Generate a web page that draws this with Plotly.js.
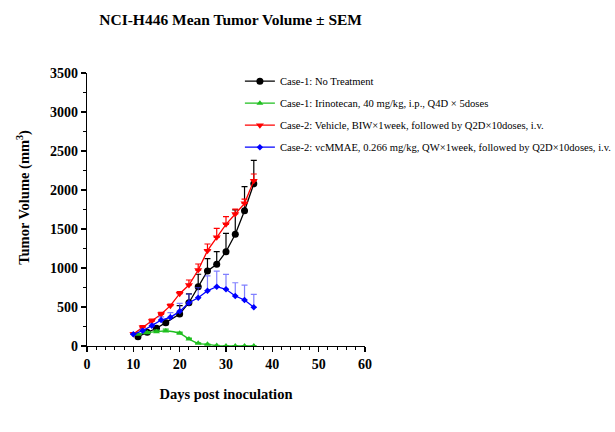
<!DOCTYPE html>
<html>
<head>
<meta charset="utf-8">
<script src="https://cdn.plot.ly/plotly-3.0.1.min.js"></script>
<style>
  html, body { margin: 0; padding: 0; background: #fff; }
  #chart { width: 615px; height: 432px; }
</style>
</head>
<body>
<div id="chart"></div>
<script>
// Mean tumour volume (mm³) with upper SEM, NCI-H446 xenograft
const daysCase1 = [11, 13, 15, 17, 20, 22, 24, 26, 28, 30, 32, 34, 36];
const daysCase2 = [10, 12, 14, 16, 18, 20, 22, 24, 26, 28, 30, 32, 34, 36];

const noTreatment    = [120, 175, 227, 299, 410, 555, 760, 962, 1047, 1209, 1432, 1735, 2080];
const noTreatmentSem = [10, 15, 20, 30, 107, 112, 160, 157, 162, 236, 312, 308, 300];

const irinotecan    = [150, 171, 184, 192, 162, 90, 34, 22, 5, 0, 0, 0, 0];
const irinotecanSem = [10, 15, 20, 25, 15, 10, 5, 3, 2, 2, 2, 2, 2];

const vehicle    = [154, 240, 320, 406, 517, 671, 782, 974, 1222, 1393, 1560, 1692, 1829, 2120];
const vehicleSem = [15, 20, 25, 26, 21, 25, 64, 77, 86, 116, 98, 64, 55, 85];

const vcMMAE    = [150, 196, 261, 333, 368, 444, 555, 619, 709, 760, 727, 641, 590, 496];
const vcMMAESem = [10, 20, 25, 40, 59, 103, 110, 130, 190, 200, 192, 170, 190, 167];

const seriesNames = [
  'Case-1: No Treatment',
  'Case-1: Irinotecan, 40 mg/kg, i.p., Q4D × 5doses',
  'Case-2: Vehicle, BIW×1week, followed by Q2D×10doses, i.v.',
  'Case-2: vcMMAE, 0.266 mg/kg, QW×1week, followed by Q2D×10doses, i.v.'
];

const yTitle = '<b>Tumor Volume (mm<sup>3</sup>)</b>';

const serif = 'Liberation Serif, Times New Roman, serif';

function upperErr(sem, color) {
  return {
    type: 'data', symmetric: false,
    array: sem, arrayminus: sem.map(() => 0),
    color: color, thickness: 1.2, width: 3
  };
}

const traces = [
  {
    x: daysCase1, y: noTreatment, name: seriesNames[0], legendgroup: 'g1',
    mode: 'lines+markers', type: 'scatter',
    line: { color: '#000000', width: 1.3 },
    marker: { symbol: 'circle', size: 7, color: '#000000' },
    error_y: upperErr(noTreatmentSem, '#000000')
  },
  {
    x: daysCase1, y: irinotecan, name: seriesNames[1], legendgroup: 'g2',
    mode: 'lines+markers', type: 'scatter',
    line: { color: '#1fbf1f', width: 1.3, shape: 'spline' },
    marker: { symbol: 'triangle-up', size: 6, color: '#1fbf1f' },
    error_y: upperErr(irinotecanSem, '#1fbf1f')
  },
  {
    x: daysCase2, y: vehicle, name: seriesNames[2], legendgroup: 'g3',
    mode: 'lines+markers', type: 'scatter',
    line: { color: '#ff0000', width: 1.3 },
    marker: { symbol: 'triangle-down', size: 7, color: '#ff0000' },
    error_y: upperErr(vehicleSem, '#ff0000')
  },
  {
    x: daysCase2, y: vcMMAE, name: seriesNames[3], legendgroup: 'g4',
    mode: 'lines+markers', type: 'scatter',
    line: { color: '#0000ff', width: 1.3 },
    marker: { symbol: 'diamond', size: 5, color: '#0000ff' },
    error_y: upperErr(vcMMAESem, 'rgba(60,60,255,0.65)')
  }
];

const layout = {
  width: 615, height: 432,
  margin: { l: 87, r: 250, t: 73, b: 86, autoexpand: false },
  paper_bgcolor: '#ffffff', plot_bgcolor: '#ffffff',
  font: { family: serif, color: '#000000' },
  showlegend: true,
  title: {
    text: '<b>NCI-H446 Mean Tumor Volume ± SEM</b>',
    font: { family: serif, size: 15.5, color: '#000' },
    x: 0.375, xanchor: 'center', y: 0.955, yanchor: 'middle'
  },
  xaxis: {
    range: [0, 60], showgrid: false, zeroline: false,
    showline: true, linecolor: '#000', linewidth: 1.2,
    ticks: 'outside', ticklen: 5, tickwidth: 1.2, tickcolor: '#000',
    dtick: 10, tick0: 0,
    minor: { dtick: 2, ticks: 'outside', ticklen: 3, tickcolor: '#000', tickwidth: 1 },
    tickfont: { family: serif, size: 14, color: '#000', weight: 'bold' },
    title: { text: '<b>Days post inoculation</b>', font: { family: serif, size: 14.5, color: '#000' }, standoff: 17 }
  },
  yaxis: {
    range: [0, 3500], showgrid: false, zeroline: false,
    showline: true, linecolor: '#000', linewidth: 1.2,
    ticks: 'outside', ticklen: 5, tickwidth: 1.2, tickcolor: '#000',
    dtick: 500, tick0: 0,
    minor: { dtick: 250, ticks: 'outside', ticklen: 3, tickcolor: '#000', tickwidth: 1 },
    tickfont: { family: serif, size: 14, color: '#000', weight: 'bold' }
  },
  annotations: [{
    text: yTitle, textangle: -90, showarrow: false,
    xref: 'paper', yref: 'paper', x: -0.228, y: 0.545,
    xanchor: 'center', yanchor: 'middle',
    font: { family: serif, size: 14.5, color: '#000' }
  }],
  legend: {
    x: 0.55, xanchor: 'left', y: 1.023, yanchor: 'top',
    font: { family: serif, size: 10.6, color: '#000' },
    bgcolor: 'rgba(0,0,0,0)', borderwidth: 0,
    tracegroupgap: 3
  }
};

Plotly.newPlot('chart', traces, layout, { displayModeBar: false, staticPlot: true });
</script>
</body>
</html>
